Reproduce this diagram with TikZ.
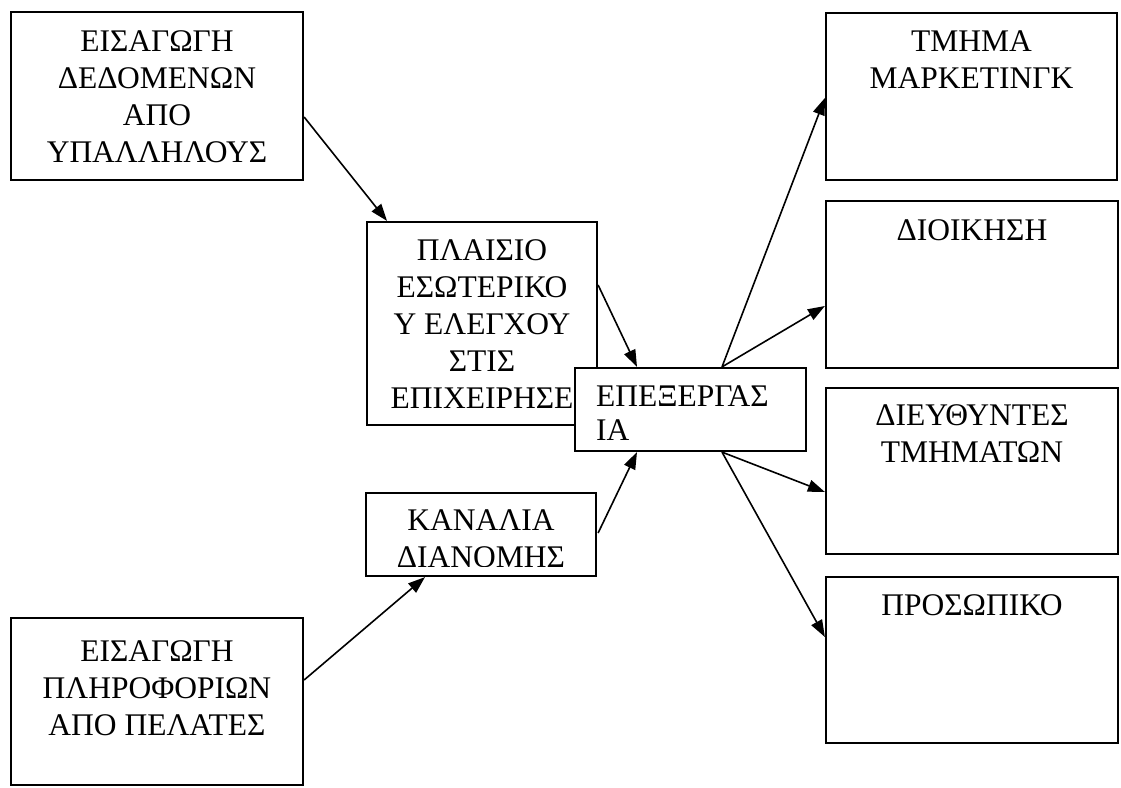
\documentclass[tikz,border=0pt]{standalone}
\usepackage{fontspec}
\setmainfont{Liberation Serif}
\usetikzlibrary{arrows.meta,calc}
\tikzset{
  box/.style={draw=black, line width=2.2pt, fill=white, inner sep=0pt, rectangle},
  lbl/.style={inner sep=0pt, align=center, font=\fontsize{31.5}{37}\selectfont},
  arr/.style={draw=black, line width=1.6pt, -{Triangle[length=17pt,width=12pt]}}
}
\begin{document}
\begin{tikzpicture}[x=1pt,y=-1pt]
\useasboundingbox (0,0) rectangle (1121,787);
% boxes
\node[box, minimum width=292pt, minimum height=168pt] (A) at (157,96) {};
\node[box, minimum width=230pt, minimum height=203pt] (B) at (482,323.5) {};
\node[box, minimum width=230pt, minimum height=83pt] (D) at (481,534.5) {};
\node[box, minimum width=292pt, minimum height=167pt] (E) at (157,701.5) {};
\node[box, minimum width=291pt, minimum height=167pt] (F) at (971.5,96.5) {};
\node[box, minimum width=292pt, minimum height=167pt] (G) at (972,284.5) {};
\node[box, minimum width=292pt, minimum height=166pt] (H) at (972,471) {};
\node[box, minimum width=292pt, minimum height=166pt] (I) at (972,660) {};
% labels (anchor=base is the baseline of the last line)
\node[lbl, anchor=base] (At) at ($(A.north)+(0,152)$) {ΕΙΣΑΓΩΓΗ\\ΔΕΔΟΜΕΝΩΝ\\ΑΠΟ\\ΥΠΑΛΛΗΛΟΥΣ};
\node[lbl, anchor=base] (Bt) at ($(B.north)+(0,188)$) {ΠΛΑΙΣΙΟ\\ΕΣΩΤΕΡΙΚΟ\\Υ ΕΛΕΓΧΟΥ\\ΣΤΙΣ\\ΕΠΙΧΕΙΡΗΣΕ};
\node[box, minimum width=231pt, minimum height=83pt] (C) at (690.5,409.5) {};
\node[lbl, align=left, anchor=base west, font=\fontsize{31.5}{34}\selectfont] (Ct) at ($(C.north west)+(22,74)$) {ΕΠΕΞΕΡΓΑΣ\\ΙΑ};
\begin{scope}
\clip (D.north west) rectangle ($(D.south east)+(0,-11)$);
\node[lbl, anchor=base] (Dt) at ($(D.north)+(0,76)$) {ΚΑΝΑΛΙΑ\\ΔΙΑΝΟΜΗΣ};
\end{scope}
\node[lbl, anchor=base] (Et) at ($(E.north)+(0,119)$) {ΕΙΣΑΓΩΓΗ\\ΠΛΗΡΟΦΟΡΙΩΝ\\ΑΠΟ ΠΕΛΑΤΕΣ};
\node[lbl, anchor=base] (Ft) at ($(F.north)+(0,77)$) {ΤΜΗΜΑ\\ΜΑΡΚΕΤΙΝΓΚ};
\node[lbl, anchor=base] (Gt) at ($(G.north)+(0,41)$) {ΔΙΟΙΚΗΣΗ};
\node[lbl, anchor=base] (Ht) at ($(H.north)+(0,76)$) {ΔΙΕΥΘΥΝΤΕΣ\\ΤΜΗΜΑΤΩΝ};
\node[lbl, anchor=base] (It) at ($(I.north)+(0,40)$) {ΠΡΟΣΩΠΙΚΟ};
% connectors
\draw[arr] ($(A.east)+(0,21)$) -- ($(B.north)+(-95,0)$);
\draw[arr] ($(B.east)+(0,-38.5)$) -- ($(C.north)+(-53.5,0)$);
\draw[arr] ($(D.east)+(1,-1.5)$) -- ($(C.south)+(-53.5,0)$);
\draw[arr] ($(E.east)+(0,-21.5)$) -- ($(D.south)+(-56,0)$);
\draw[arr] ($(C.north)+(31.5,0)$) -- ($(F.west)+(0,1.5)$);
\draw[arr] ($(C.north)+(31.5,0)$) -- ($(G.west)+(0,21.5)$);
\draw[arr] ($(C.south)+(31.5,0)$) -- ($(H.west)+(0,21)$);
\draw[arr] ($(C.south)+(31.5,0)$) -- ($(I.west)+(0,-23)$);
\end{tikzpicture}
\end{document}
